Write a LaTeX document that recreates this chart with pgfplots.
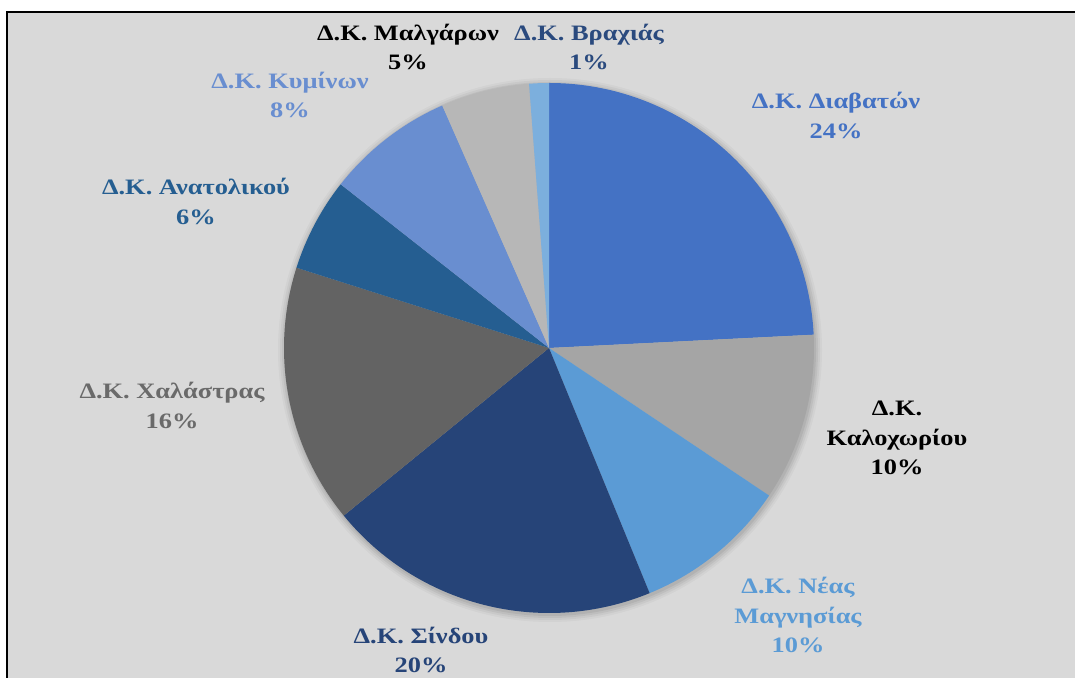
\documentclass[border=0pt]{standalone}
\usepackage{pgfplots}
\pgfplotsset{compat=1.18}
\usepackage{pgfplotstable}
\usepackage{fontspec}
\setmainfont{Liberation Serif}[FakeStretch=1.2]
\definecolor{bgc}{HTML}{D9D9D9}
\definecolor{cDia}{HTML}{4472C4}
\definecolor{cKal}{HTML}{A5A5A5}
\definecolor{cNea}{HTML}{5B9BD5}
\definecolor{cSin}{HTML}{264478}
\definecolor{cCha}{HTML}{636363}
\definecolor{cAna}{HTML}{255E91}
\definecolor{cKym}{HTML}{698ED0}
\definecolor{cMal}{HTML}{B7B7B7}
\definecolor{cVra}{HTML}{7CAFDD}
\definecolor{tVra}{HTML}{2A4A7E}
\definecolor{tCha}{HTML}{6A6A6A}
\tikzset{lbl/.style={font=\bfseries\fontsize{22}{29.5}\selectfont, align=center, inner sep=0pt}}
\pgfplotstableread{
value color
24.2 cDia
10.2 cKal
9.4 cNea
20.3 cSin
15.8 cCha
5.7 cAna
7.8 cKym
5.4 cMal
1.2 cVra
}\pietable
\begin{document}
\begin{tikzpicture}
\useasboundingbox (0,0) rectangle (1075pt,677pt);
\clip (0,0) rectangle (1075pt,677pt);
\fill[white] (0,0) rectangle (1075pt,677pt);
\begin{axis}[
  at={(0pt,0pt)}, anchor=south west,
  scale only axis, width=1075pt, height=677pt,
  xmin=0, xmax=1075, ymin=0, ymax=677,
  hide axis, clip=false,
]
\draw[line width=2pt, fill=bgc] (axis cs:7,-10) rectangle (axis cs:1090,665);
% soft shadow
\foreach \r/\o in {272/0.03,270/0.04,268/0.05,266/0.06}{
  \edef\temp{\noexpand\fill[black, opacity=\o] (axis cs:550,327) circle[radius=\r pt];}\temp
}
\def\cum{0}
\pgfplotsforeachungrouped \i in {0,...,8}{
  \pgfplotstablegetelem{\i}{value}\of\pietable \let\pval\pgfplotsretval
  \pgfplotstablegetelem{\i}{color}\of\pietable \let\pcol\pgfplotsretval
  \pgfmathsetmacro\pa{90-3.6*\cum}
  \pgfmathsetmacro\pb{90-3.6*(\cum+\pval)}
  \edef\temp{\noexpand\fill[\pcol] (axis cs:549,329) -- ++(\pa:265pt) arc[start angle=\pa, end angle=\pb, radius=265pt] -- cycle;}
  \temp
  \pgfmathsetmacro\cum{\cum+\pval}
}
\node[lbl, text=black] at (axis cs:408,630) {Δ.Κ. Μαλγάρων\\5\%};
\node[lbl, text=tVra] at (axis cs:589,630) {Δ.Κ. Βραχιάς\\1\%};
\node[lbl, text=cDia] at (axis cs:836,561.5) {Δ.Κ. Διαβατών\\24\%};
\node[lbl, text=cKym] at (axis cs:290,582) {Δ.Κ. Κυμίνων\\8\%};
\node[lbl, text=cAna] at (axis cs:196,475.5) {Δ.Κ. Ανατολικού\\6\%};
\node[lbl, text=tCha] at (axis cs:172,271.5) {Δ.Κ. Χαλάστρας\\16\%};
\node[lbl, text=black] at (axis cs:897,239) {Δ.Κ.\\Καλοχωρίου\\10\%};
\node[lbl, text=cNea] at (axis cs:798,62) {Δ.Κ. Νέας\\Μαγνησίας\\10\%};
\node[lbl, text=cSin] at (axis cs:421,27) {Δ.Κ. Σίνδου\\20\%};
\end{axis}
\end{tikzpicture}
\end{document}
